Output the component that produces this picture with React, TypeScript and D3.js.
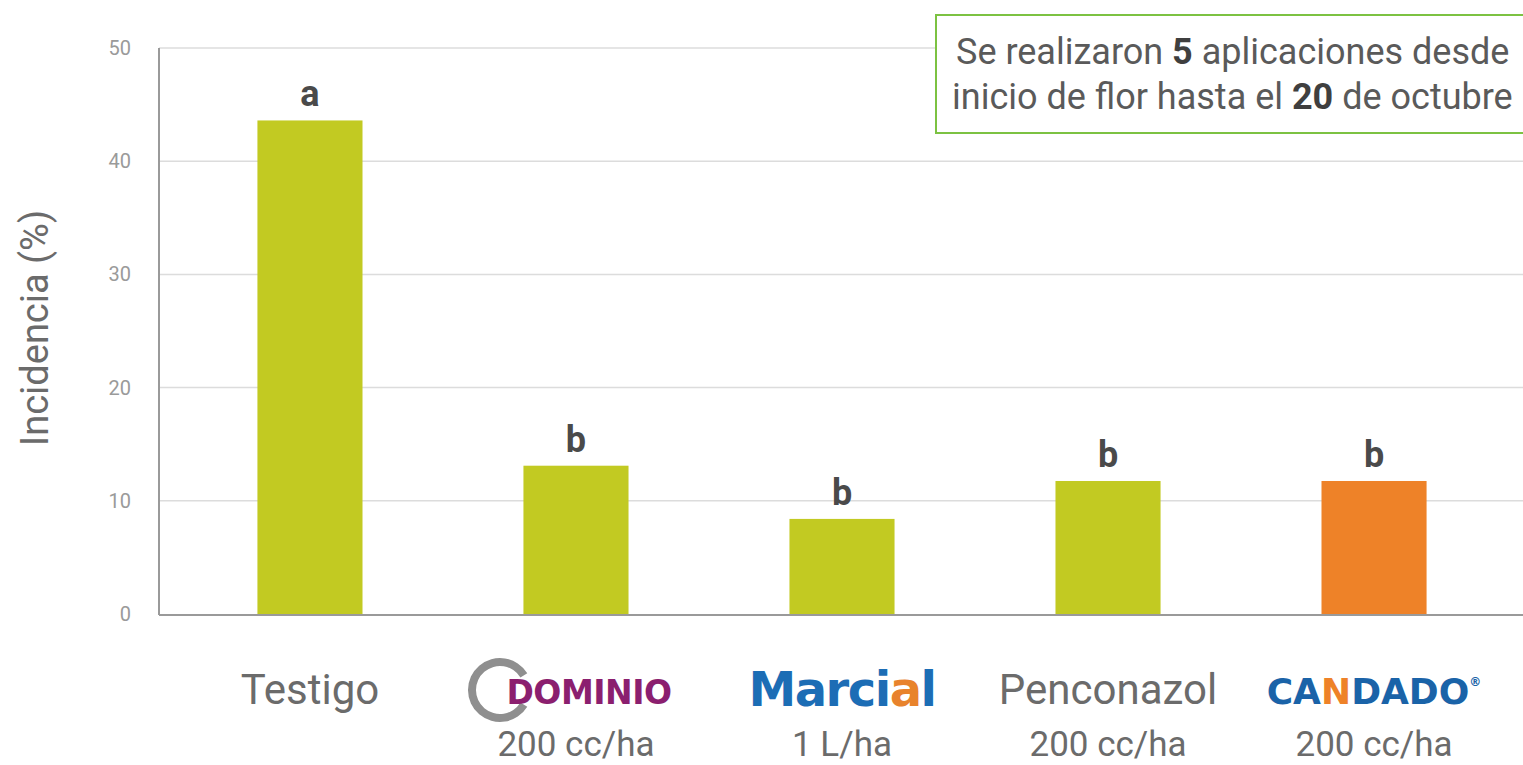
import React from 'react';
import * as d3 from 'd3';

const W = 1523;
const H = 765;

// datos
const categories = ['Testigo', 'Dominio', 'Marcial', 'Penconazol', 'Candado'];
const incidence = [43.6, 13.1, 8.4, 11.75, 11.75];
const letters = ['a', 'b', 'b', 'b', 'b'];
const doses = ['', '200 cc/ha', '1 L/ha', '200 cc/ha', '200 cc/ha'];
const barColors = ['#c2ca22', '#c2ca22', '#c2ca22', '#c2ca22', '#ee8228'];
const yTicks = [0, 10, 20, 30, 40, 50];

const margin = { left: 159, top: 48, bottom: 614 };
const FONT = "Roboto, sans-serif";

const Logo = ({ name, x, y }: { name: string; x: number; y: number }) => {
    if (name === 'Dominio') {
        const arc = d3.arc<any>()({ innerRadius: 24, outerRadius: 32, startAngle: Math.PI / 2 + 0.55, endAngle: Math.PI * 2.5 - 0.55 } as any) || '';
        return (
            <g>
                <path d={arc} transform={`translate(${x - 76},${y - 14})`} fill="#8f8f8f" />
                <text x={x + 13} y={y} textAnchor="middle" fontFamily="'DejaVu Sans', sans-serif"
                    fontWeight="bold" fontSize={33} fill="#8b1f6f" letterSpacing={-0.5}>DOMINIO</text>
            </g>
        );
    }
    if (name === 'Marcial') {
        return (
            <text x={x} y={y + 2} textAnchor="middle" fontFamily="'DejaVu Sans', sans-serif"
                fontWeight="bold" fontSize={48} fill="#1c6db5" letterSpacing={-1.5}>
                Marci<tspan fill="#e8832c">a</tspan>l
            </text>
        );
    }
    if (name === 'Candado') {
        return (
            <text x={x} y={y} textAnchor="middle" fontFamily="'DejaVu Sans', sans-serif"
                fontWeight="bold" fontSize={36} fill="#1a63a8">
                CA<tspan fill="#ee8228">N</tspan>DADO<tspan fontSize={12} dy={-18}>®</tspan>
            </text>
        );
    }
    return (
        <text x={x} y={y} textAnchor="middle" fontFamily={FONT} fontSize={42} fill="#6b6b6b">{name}</text>
    );
};

export default function App() {
    const x = d3.scaleBand<string>()
        .domain(categories)
        .range([margin.left, 1525])
        .paddingInner(0.605)
        .paddingOuter(0.37);

    const y = d3.scaleLinear().domain([0, 50]).range([margin.bottom, margin.top]);

    return (
        <svg width={W} height={H} style={{ position: 'absolute', left: 0, top: 0, background: '#fff' }}>
            {/* grid */}
            {yTicks.filter(t => t > 0).map(t => (
                <line key={t} x1={margin.left} x2={W} y1={y(t)} y2={y(t)} stroke="#dcdcdc" strokeWidth={1.5} />
            ))}
            {yTicks.map(t => (
                <text key={'t' + t} x={131} y={y(t) + 7} textAnchor="end" fontFamily={FONT}
                    fontSize={20} fill="#9a9a9a">{t}</text>
            ))}

            {/* barras */}
            {categories.map((c, i) => (
                <g key={c}>
                    <rect x={x(c)} y={y(incidence[i])} width={x.bandwidth()} height={y(0) - y(incidence[i])}
                        fill={barColors[i]} />
                    <text x={(x(c) || 0) + x.bandwidth() / 2} y={y(incidence[i]) - 14} textAnchor="middle"
                        fontFamily={FONT} fontWeight="bold" fontSize={36} fill="#4a4a4a">
                        {letters[i]}
                    </text>
                    <Logo name={c} x={(x(c) || 0) + x.bandwidth() / 2} y={704} />
                    <text x={(x(c) || 0) + x.bandwidth() / 2} y={756} textAnchor="middle" fontFamily={FONT}
                        fontSize={35} fill="#6b6b6b">{doses[i]}</text>
                </g>
            ))}

            {/* ejes */}
            <line x1={margin.left} x2={margin.left} y1={margin.top} y2={margin.bottom + 1} stroke="#9a9a9a" strokeWidth={2} />
            <line x1={margin.left} x2={W} y1={margin.bottom + 1} y2={margin.bottom + 1} stroke="#9a9a9a" strokeWidth={2} />

            <text transform={`translate(48,${328}) rotate(-90)`} textAnchor="middle" fontFamily={FONT}
                fontSize={38} fill="#6b6b6b">Incidencia (%)</text>

            {/* nota */}
            <rect x={936} y={15} width={620} height={118} fill="#fff" stroke="#7cc242" strokeWidth={2} />
            <text x={956} y={64} fontFamily={FONT} fontSize={36} fill="#5a5a5a">
                Se realizaron <tspan fontWeight="bold" fill="#3f3f3f">5</tspan> aplicaciones desde
            </text>
            <text x={952} y={109} fontFamily={FONT} fontSize={36} fill="#5a5a5a">
                inicio de flor hasta el <tspan fontWeight="bold" fill="#3f3f3f">20</tspan> de octubre
            </text>
        </svg>
    );
}
